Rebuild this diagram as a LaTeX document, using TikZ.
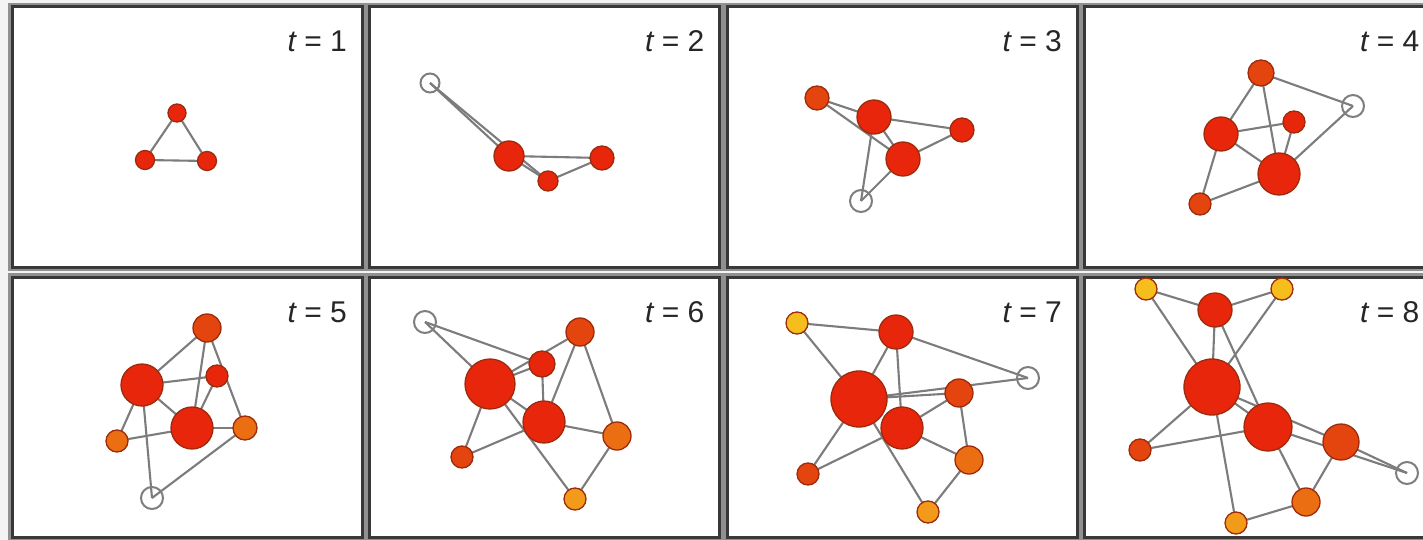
\documentclass[tikz,border=0pt]{standalone}
\usepackage{fontspec}
\setmainfont{Liberation Sans}
\pgfdeclarelayer{panels}
\pgfdeclarelayer{edges}
\pgfsetlayers{panels,edges,main}
\definecolor{cred}{HTML}{E8260C}
\definecolor{cored}{HTML}{E4450F}
\definecolor{corange}{HTML}{EC6E12}
\definecolor{clorange}{HTML}{F29A1A}
\definecolor{cyel}{HTML}{F6BE1C}
\definecolor{cborder}{HTML}{9E2A0C}
\definecolor{cedge}{HTML}{7C7C7C}
\definecolor{cempty}{HTML}{7E7E7E}
\definecolor{cframe}{HTML}{383838}
\definecolor{chalo}{HTML}{909090}
\definecolor{cbg}{HTML}{F3F3F3}
\tikzset{
  nd/.style={circle, inner sep=0pt, draw=cborder, line width=1.3pt, minimum size=2*#1},
  rn/.style={nd=#1, fill=cred},
  on/.style={nd=#1, fill=cored},
  gn/.style={nd=#1, fill=corange},
  ln/.style={nd=#1, fill=clorange},
  yn/.style={nd=#1, fill=cyel},
  en/.style={circle, inner sep=0pt, draw=cempty, line width=2pt, fill=none, minimum size=2*#1},
  edge/.style={draw=cedge, line width=2.1pt},
  lbl/.style={font=\fontsize{30}{36}\selectfont, text=black!85, inner sep=0pt, anchor=base east},
  halo/.style={draw=chalo, line width=8pt},
  frame/.style={draw=cframe, fill=white, line width=3pt}
}
\begin{document}
\begin{tikzpicture}[x=1pt,y=-1pt]
\useasboundingbox (0,0) rectangle (1423,540);
\begin{pgfonlayer}{panels}
\fill[cbg] (0,0) rectangle (1423,540);
\foreach \px/\py in {12/7,369.5/7,727/7,1084.5/7,12/277,369.5/277,727/277,1084.5/277}
  {\draw[halo] (\px,\py) rectangle ++(350,260);}
\foreach \px/\py in {12/7,369.5/7,727/7,1084.5/7,12/277,369.5/277,727/277,1084.5/277}
  {\draw[frame] (\px,\py) rectangle ++(350,260);}
\end{pgfonlayer}
% labels
\node[lbl] (l1) at (347,52) {\itshape t\upshape{} = 1};
\node[lbl] (l2) at (704.5,52) {\itshape t\upshape{} = 2};
\node[lbl] (l3) at (1062,52) {\itshape t\upshape{} = 3};
\node[lbl] (l4) at (1419.5,52) {\itshape t\upshape{} = 4};
\node[lbl] (l5) at (347,322) {\itshape t\upshape{} = 5};
\node[lbl] (l6) at (704.5,322) {\itshape t\upshape{} = 6};
\node[lbl] (l7) at (1062,322) {\itshape t\upshape{} = 7};
\node[lbl] (l8) at (1419.5,322) {\itshape t\upshape{} = 8};
% panel 1
\node[rn=9] (p1a) at (177,113) {};
\node[rn=9.5] (p1b) at (145,160) {};
\node[rn=9.5] (p1c) at (207,161) {};
% panel 2
\node[en=9.5] (p2e) at (430,83) {};
\node[rn=15] (p2a) at (509,156) {};
\node[rn=10] (p2b) at (548,181) {};
\node[rn=12] (p2c) at (602,158) {};
% panel 3
\node[on=12] (p3a) at (817,98) {};
\node[rn=17] (p3b) at (874,117) {};
\node[rn=12] (p3c) at (962,130) {};
\node[rn=17] (p3d) at (903,159) {};
\node[en=11] (p3e) at (861,201) {};
% panel 4
\node[on=13] (p4a) at (1261,73) {};
\node[en=11] (p4e) at (1353,106) {};
\node[rn=17] (p4b) at (1221,134) {};
\node[rn=11] (p4c) at (1294,122) {};
\node[rn=21] (p4d) at (1279,174) {};
\node[on=11] (p4f) at (1200,204) {};
% panel 5
\node[on=14] (p5a) at (207,328) {};
\node[rn=21] (p5b) at (142,385) {};
\node[rn=11] (p5c) at (217,376) {};
\node[rn=21] (p5d) at (192,428) {};
\node[gn=11] (p5f) at (117,441) {};
\node[gn=12] (p5g) at (245,428) {};
\node[en=11] (p5e) at (152,498) {};
% panel 6
\node[en=11] (p6e) at (425,322) {};
\node[on=14] (p6a) at (580,332) {};
\node[rn=13] (p6c) at (542,364) {};
\node[rn=25] (p6b) at (490,384) {};
\node[rn=21] (p6d) at (544,422) {};
\node[gn=14] (p6g) at (617,436) {};
\node[on=11] (p6f) at (462,457) {};
\node[ln=11] (p6h) at (575,499) {};
% panel 7
\node[yn=11] (p7y) at (797,323) {};
\node[rn=17] (p7a) at (896,332) {};
\node[en=11] (p7e) at (1028,378) {};
\node[rn=28] (p7b) at (859,399) {};
\node[on=14] (p7c) at (959,393) {};
\node[rn=21] (p7d) at (902,428) {};
\node[gn=14] (p7g) at (969,460) {};
\node[on=11] (p7f) at (808,474) {};
\node[ln=11] (p7h) at (928,512) {};
% panel 8
\node[yn=11] (p8y) at (1146,289) {};
\node[rn=17] (p8a) at (1215,310) {};
\node[yn=11] (p8z) at (1282,289) {};
\node[rn=28] (p8b) at (1212,387) {};
\node[rn=24] (p8d) at (1268,427) {};
\node[on=18] (p8c) at (1341,442) {};
\node[en=11] (p8e) at (1407,473) {};
\node[on=11] (p8f) at (1140,450) {};
\node[gn=14] (p8g) at (1306,502) {};
\node[ln=11] (p8h) at (1236,523) {};
\begin{pgfonlayer}{edges}
% 1
\draw[edge] (p1a.center) -- (p1b.center) -- (p1c.center) -- cycle;
% 2
\draw[edge] (p2e.center) -- (p2a.center);
\draw[edge] (p2e.center) -- (p2b.center);
\draw[edge] (p2a.center) -- (p2c.center);
\draw[edge] (p2a.center) -- (p2b.center);
\draw[edge] (p2b.center) -- (p2c.center);
% 3
\draw[edge] (p3a.center) -- (p3b.center);
\draw[edge] (p3a.center) -- (p3d.center);
\draw[edge] (p3b.center) -- (p3c.center);
\draw[edge] (p3b.center) -- (p3d.center);
\draw[edge] (p3d.center) -- (p3c.center);
\draw[edge] (p3b.center) -- (p3e.center);
\draw[edge] (p3d.center) -- (p3e.center);
% 4
\draw[edge] (p4a.center) -- (p4e.center);
\draw[edge] (p4a.center) -- (p4b.center);
\draw[edge] (p4a.center) -- (p4d.center);
\draw[edge] (p4b.center) -- (p4c.center);
\draw[edge] (p4b.center) -- (p4d.center);
\draw[edge] (p4c.center) -- (p4d.center);
\draw[edge] (p4e.center) -- (p4d.center);
\draw[edge] (p4b.center) -- (p4f.center);
\draw[edge] (p4f.center) -- (p4d.center);
% 5
\draw[edge] (p5a.center) -- (p5b.center);
\draw[edge] (p5a.center) -- (p5d.center);
\draw[edge] (p5a.center) -- (p5g.center);
\draw[edge] (p5b.center) -- (p5c.center);
\draw[edge] (p5c.center) -- (p5d.center);
\draw[edge] (p5b.center) -- (p5d.center);
\draw[edge] (p5b.center) -- (p5f.center);
\draw[edge] (p5f.center) -- (p5d.center);
\draw[edge] (p5d.center) -- (p5g.center);
\draw[edge] (p5b.center) -- (p5e.center);
\draw[edge] (p5e.center) -- (p5g.center);
% 6
\draw[edge] (p6e.center) -- (p6b.center);
\draw[edge] (p6e.center) -- (p6c.center);
\draw[edge] (p6b.center) -- (p6a.center);
\draw[edge] (p6b.center) -- (p6c.center);
\draw[edge] (p6c.center) -- (p6d.center);
\draw[edge] (p6a.center) -- (p6d.center);
\draw[edge] (p6a.center) -- (p6g.center);
\draw[edge] (p6b.center) -- (p6d.center);
\draw[edge] (p6b.center) -- (p6f.center);
\draw[edge] (p6f.center) -- (p6d.center);
\draw[edge] (p6d.center) -- (p6g.center);
\draw[edge] (p6b.center) -- (p6h.center);
\draw[edge] (p6g.center) -- (p6h.center);
% 7
\draw[edge] (p7y.center) -- (p7a.center);
\draw[edge] (p7y.center) -- (p7b.center);
\draw[edge] (p7a.center) -- (p7b.center);
\draw[edge] (p7a.center) -- (p7d.center);
\draw[edge] (p7a.center) -- (p7e.center);
\draw[edge] (p7b.center) -- (p7c.center);
\draw[edge] (p7b.center) -- (p7e.center);
\draw[edge] (p7c.center) -- (p7d.center);
\draw[edge] (p7c.center) -- (p7g.center);
\draw[edge] (p7d.center) -- (p7g.center);
\draw[edge] (p7b.center) -- (p7f.center);
\draw[edge] (p7f.center) -- (p7d.center);
\draw[edge] (p7b.center) -- (p7h.center);
\draw[edge] (p7g.center) -- (p7h.center);
% 8
\draw[edge] (p8y.center) -- (p8a.center);
\draw[edge] (p8y.center) -- (p8b.center);
\draw[edge] (p8a.center) -- (p8z.center);
\draw[edge] (p8z.center) -- (p8b.center);
\draw[edge] (p8a.center) -- (p8b.center);
\draw[edge] (p8a.center) -- (p8d.center);
\draw[edge] (p8b.center) -- (p8d.center);
\draw[edge] (p8b.center) -- (p8c.center);
\draw[edge] (p8b.center) -- (p8f.center);
\draw[edge] (p8f.center) -- (p8d.center);
\draw[edge] (p8b.center) -- (p8h.center);
\draw[edge] (p8d.center) -- (p8g.center);
\draw[edge] (p8g.center) -- (p8c.center);
\draw[edge] (p8g.center) -- (p8h.center);
\draw[edge] (p8d.center) -- (p8e.center);
\draw[edge] (p8c.center) -- (p8e.center);
\end{pgfonlayer}
\end{tikzpicture}
\end{document}
